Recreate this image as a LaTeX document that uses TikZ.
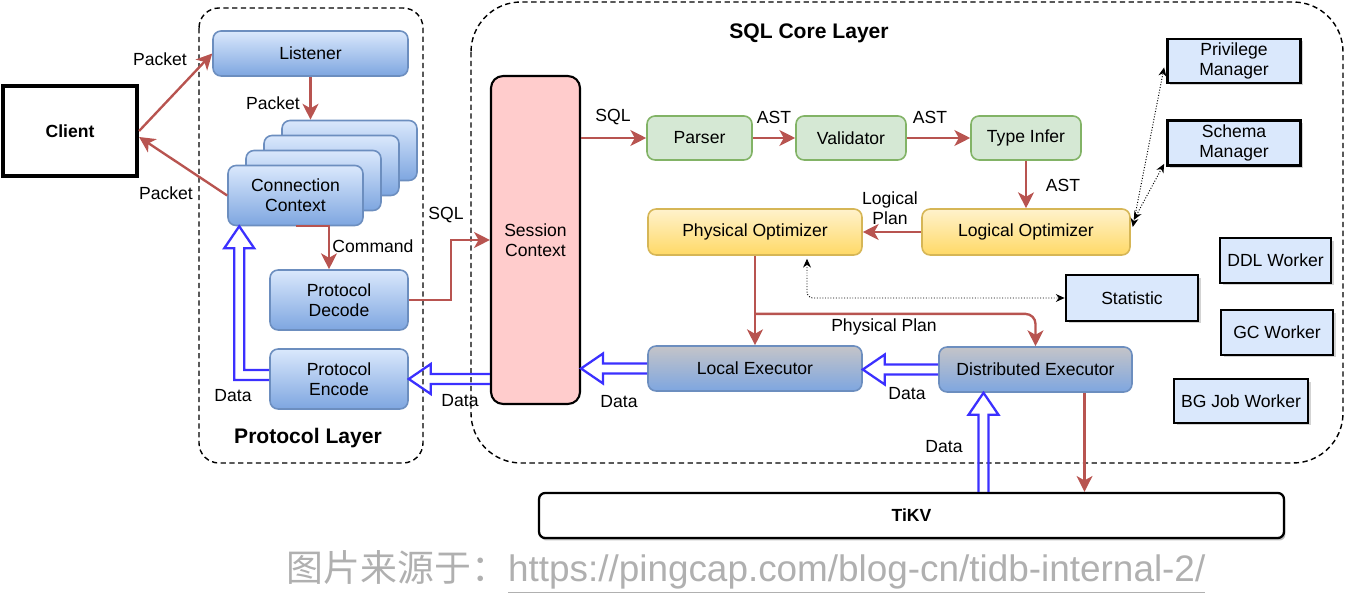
\documentclass[tikz,border=0pt]{standalone}
\usepackage{fontspec}
\setmainfont{Liberation Sans}
\newfontfamily\cjk{Noto Sans CJK SC}
\usetikzlibrary{arrows.meta, calc, shadows}

\definecolor{flowred}{HTML}{B85450}
\definecolor{datablue}{HTML}{3B30FF}
\definecolor{blueline}{HTML}{6C8EBF}
\definecolor{bluetop}{HTML}{DAE8FC}
\definecolor{bluebot}{HTML}{7EA6E0}
\definecolor{exectop}{HTML}{C4C4C8}
\definecolor{greenline}{HTML}{82B366}
\definecolor{greenfill}{HTML}{D5E8D4}
\definecolor{yellowline}{HTML}{D6B656}
\definecolor{yellowtop}{HTML}{FFF2CC}
\definecolor{yellowbot}{HTML}{FFD966}
\definecolor{pinkfill}{HTML}{FFCCCC}
\definecolor{captiongray}{HTML}{B0B0B0}

\newcommand{\dataleft}[2]{%
  \draw[dataline] ($(#1)+(0,-5)$) -- ($(#2)+(22,-5)$) -- ($(#2)+(22,-15)$) -- (#2)
    -- ($(#2)+(22,15)$) -- ($(#2)+(22,5)$) -- ($(#1)+(0,5)$);}
\newcommand{\dataup}[2]{%
  \draw[dataline] ($(#1)+(-5,0)$) -- ($(#2)+(-5,22)$) -- ($(#2)+(-15,22)$) -- (#2)
    -- ($(#2)+(15,22)$) -- ($(#2)+(5,22)$) -- ($(#1)+(5,0)$);}

\begin{document}
\begin{tikzpicture}[x=0.02cm, y=-0.02cm,
  font=\fontsize{10}{11.5}\selectfont,
  box/.style={rounded corners=0.16cm, align=center, inner sep=0pt, line width=0.9pt},
  bluebox/.style={box, draw=blueline, top color=bluetop, bottom color=bluebot},
  greenbox/.style={box, draw=greenline, fill=greenfill},
  yellowbox/.style={box, draw=yellowline, top color=yellowtop, bottom color=yellowbot},
  execbox/.style={box, draw=blueline, top color=exectop, bottom color=bluebot},
  mgrbox/.style={draw=black, line width=1.6pt, fill=bluetop, align=center, inner sep=0pt,
    drop shadow={shadow xshift=0.05cm, shadow yshift=-0.05cm, opacity=0.35}},
  layer/.style={draw=black, line width=0.8pt, dash pattern=on 3pt off 2pt},
  layerlbl/.style={font=\fontsize{12}{14}\selectfont\bfseries},
  flow/.style={draw=flowred, line width=1.35pt, -{Stealth[length=9pt, width=9pt, inset=2.5pt]}},
  dotarrow/.style={draw=black, line width=0.55pt, densely dotted,
    {Stealth[length=5pt, width=4.5pt]}-{Stealth[length=5pt, width=4.5pt]}},
  dataline/.style={draw=datablue, line width=1.3pt, line join=miter}]

  \useasboundingbox (0,0) rectangle (1345,614);

  \draw[layer, rounded corners=0.4cm] (199,8) rectangle (423,463);
  \draw[layer, rounded corners=1cm] (471,2) rectangle (1343,463);
  \node[layerlbl] (protolbl) at (308,438) {Protocol Layer};
  \node[layerlbl] (corelbl) at (809,33) {SQL Core Layer};

  \node[draw=black, line width=2.4pt, minimum width=2.68cm, minimum height=1.8cm,
    font=\fontsize{10}{12}\selectfont\bfseries] (client) at (70,131) {Client};

  \node[bluebox, minimum width=3.9cm, minimum height=0.9cm] (listener) at (310.5,53.5) {Listener};
  \foreach \i in {3,2,1}
    \node[bluebox, minimum width=2.7cm, minimum height=1.2cm] (cc\i) at (295.5+18*\i, 195.5-15*\i) {};
  \node[bluebox, minimum width=2.7cm, minimum height=1.2cm] (cc) at (295.5,195.5) {Connection\\Context};
  \node[bluebox, minimum width=2.76cm, minimum height=1.2cm] (dec) at (339,300) {Protocol\\Decode};
  \node[bluebox, minimum width=2.76cm, minimum height=1.2cm] (enc) at (339,379) {Protocol\\Encode};

  \node[draw=black, line width=1.2pt, fill=pinkfill, rounded corners=0.24cm, align=center,
    inner sep=0pt, minimum width=1.78cm, minimum height=6.56cm] (sess) at (535.5,240) {Session\\Context};

  \node[greenbox, minimum width=2.1cm, minimum height=0.88cm] (parser) at (699.5,138) {Parser};
  \node[greenbox, minimum width=2.2cm, minimum height=0.88cm] (validator) at (851,138) {Validator};
  \node[greenbox, minimum width=2.2cm, minimum height=0.88cm] (typeinfer) at (1026,138) {Type Infer};
  \node[yellowbox, minimum width=4.16cm, minimum height=0.92cm] (logopt) at (1026,232) {Logical Optimizer};
  \node[yellowbox, minimum width=4.28cm, minimum height=0.92cm] (phyopt) at (755,232) {Physical Optimizer};
  \node[execbox, minimum width=4.28cm, minimum height=0.9cm] (localex) at (755,368.5) {Local Executor};
  \node[execbox, minimum width=3.86cm, minimum height=0.9cm] (distex) at (1035.5,369.5) {Distributed Executor};

  \node[mgrbox, minimum width=2.66cm, minimum height=0.88cm] (priv) at (1234,61) {Privilege\\Manager};
  \node[mgrbox, minimum width=2.66cm, minimum height=0.9cm] (schema) at (1234,143) {Schema\\Manager};
  \node[mgrbox, minimum width=2.64cm, minimum height=0.92cm] (stat) at (1132,298) {Statistic};
  \node[mgrbox, minimum width=2.22cm, minimum height=0.9cm] (ddl) at (1275.5,260.5) {DDL Worker};
  \node[mgrbox, minimum width=2.24cm, minimum height=0.9cm] (gc) at (1277,332.5) {GC Worker};
  \node[mgrbox, minimum width=2.68cm, minimum height=0.88cm] (bgjob) at (1241,401) {BG Job Worker};

  \node[draw=black, line width=1.3pt, fill=white, rounded corners=0.12cm, minimum width=14.9cm,
    minimum height=0.9cm, font=\fontsize{10}{12}\selectfont\bfseries,
    drop shadow={shadow xshift=0.03cm, shadow yshift=-0.05cm, opacity=0.5}] (tikv) at (911.5,515.5) {TiKV};

  \draw[flow] (client.east) -- (listener.west);
  \draw[flow] (cc.west) -- ([yshift=-0.12cm]client.east);
  \draw[flow] (listener.south) -- (listener.south |- cc3.north);
  \draw[flow] (cc.south) -| ([xshift=-0.2cm]dec.north);
  \draw[flow] (dec.east) -- ++(42,0) |- (sess.west);
  \draw[flow] (sess.east |- parser.west) -- (parser.west);
  \draw[flow] (parser) -- (validator);
  \draw[flow] (validator) -- (typeinfer);
  \draw[flow] (typeinfer) -- (logopt);
  \draw[flow] (logopt) -- (phyopt);
  \draw[flow] (phyopt) -- (localex);
  \draw[flow, rounded corners=0.2cm] ($(phyopt.south)!0.65!(localex.north)$) -| (distex.north);
  \coordinate (kvdown) at ($(distex.south)+(49,0)$);
  \draw[flow] (kvdown) -- (kvdown |- tikv.north);

  \draw[dotarrow] ($(logopt.east)+(2,-5)$) -- ($(priv.south west)+(-2,-17)$);
  \draw[dotarrow] ($(logopt.east)+(3,-12)$) -- ($(schema.south west)+(-2,-3)$);
  \draw[dotarrow, rounded corners=0.12cm] ($(phyopt.south)+(52,3)$) |- (stat.west);

  \coordinate (sessenc) at (sess.west |- enc.east);
  \coordinate (sessloc) at (sess.east |- localex.west);
  \coordinate (locdist) at (localex.east |- distex.west);
  \coordinate (kvtip) at ($(distex.south)+(-52,0)$);
  \coordinate (kvtail) at (kvtip |- tikv.north);
  \dataleft{sessenc}{enc.east}
  \dataleft{localex.west}{sessloc}
  \dataleft{distex.west}{locdist}
  \dataup{kvtail}{kvtip}
  \coordinate (enctail) at ($(enc.west)+(0,-4)$);
  \coordinate (cctip) at ($(cc.south west)+(12,0)$);
  \coordinate (ccbend) at (cctip |- enctail);
  \draw[dataline] ($(enctail)+(0,-5)$) -- ($(ccbend)+(5,-5)$) -- ($(cctip)+(5,22)$) -- ($(cctip)+(15,22)$)
    -- (cctip) -- ($(cctip)+(-15,22)$) -- ($(cctip)+(-5,22)$) -- ($(ccbend)+(-5,5)$) -- ($(enctail)+(0,5)$);

  \node (pk1) at (160,59) {Packet};
  \node (pk2) at (273,103) {Packet};
  \node (pk3) at (166,193) {Packet};
  \node (cmd) at (373,246) {Command};
  \node (sql1) at (446,215) {SQL};
  \node (sql2) at (613,117) {SQL};
  \node (ast1) at (774,117) {AST};
  \node (ast2) at (930,117) {AST};
  \node (ast3) at (1063,185) {AST};
  \node[align=center] (lplan) at (890,208) {Logical\\Plan};
  \node (pplan) at (884,327) {Physical Plan};
  \node (dt1) at (233,396) {Data};
  \node (dt2) at (460,401) {Data};
  \node (dt3) at (619,402) {Data};
  \node (dt4) at (907,394) {Data};
  \node (dt5) at (944,447) {Data};

  \node[text=captiongray, font=\fontsize{21}{24}\selectfont] (src) at (746,572)
    {{\cjk 图片来源于：}\underline{https://pingcap.com/blog-cn/tidb-internal-2/}};
\end{tikzpicture}
\end{document}
